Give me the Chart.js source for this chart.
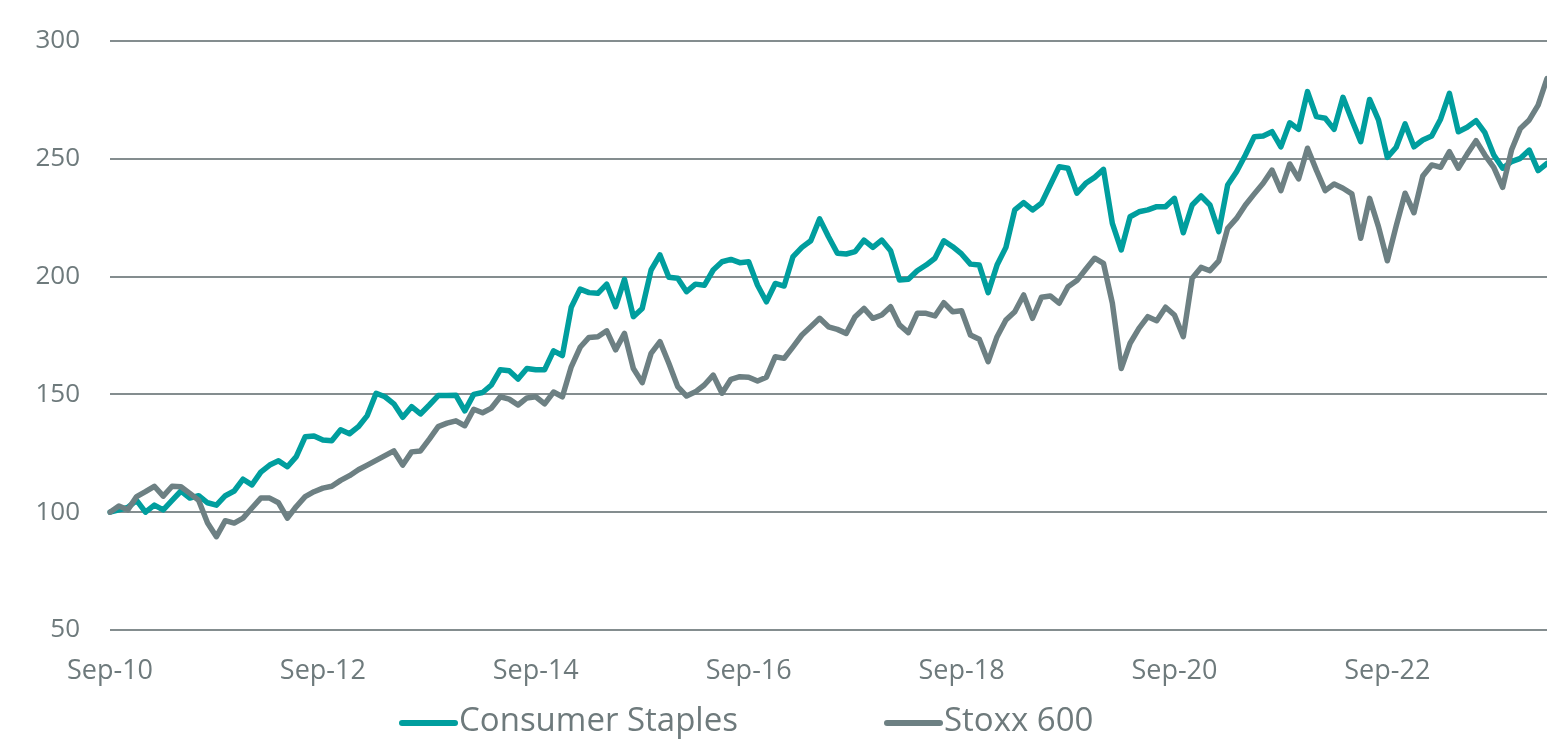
<!DOCTYPE html>
<html>
<head>
<meta charset="utf-8">
<script src="https://cdn.jsdelivr.net/npm/chart.js@4"></script>
<style>
  html, body { margin: 0; padding: 0; background: #fff; }
  #wrap { width: 1547px; height: 740px; }
</style>
</head>
<body>
<div id="wrap"><canvas id="myChart"></canvas></div>
<script>
// monthly index levels, Sep-10 = 100
var consumerStaples = [
  100, 101, 102, 105, 100, 103, 101, 105, 109, 106, 107, 104, 103, 107, 109, 114, 111.6, 117, 120, 121.8,
  119.3, 123.6, 132, 132.3, 130.6, 130.3, 135, 133.3, 136.3, 141, 150.5, 149, 146, 140.3, 144.8, 141.7, 145.5, 149.5, 149.5, 149.6,
  143, 150, 150.8, 154, 160.5, 160, 156.5, 161, 160.5, 160.5, 168.5, 166.5, 187, 194.7, 193.2, 192.9, 196.8, 187.2, 198.8, 183,
  186.5, 202.8, 209.2, 199.7, 199.3, 193.6, 196.8, 196.3, 202.8, 206.3, 207.3, 205.9, 206.3, 196.3, 189.3, 197.1, 196, 208.5, 212.4, 215.2,
  224.5, 216.9, 209.9, 209.6, 210.6, 215.5, 212.4, 215.5, 211, 198.6, 198.9, 202.5, 204.9, 207.8, 215.2, 212.7, 209.6, 205.3, 204.9, 193.2,
  204.9, 212.4, 228.3, 231.4, 228.3, 231.1, 238.9, 246.6, 246, 235.4, 239.6, 242.1, 245.5, 222.6, 211.3, 225.4, 227.5, 228.3, 229.7, 229.7,
  233.2, 218.6, 230.4, 234.2, 230.4, 219.1, 238.9, 244.5, 251.6, 259.4, 259.7, 261.5, 255.1, 265.3, 262.5, 278.5, 267.9, 267.2, 262.5, 276.1,
  266.5, 257.3, 275.2, 266.5, 250.6, 254.9, 264.8, 255.1, 258, 259.7, 266.8, 277.8, 261.5, 263.4, 266.2, 261.1, 251.6, 246, 248.8, 250.2,
  253.7, 245, 248
];
var stoxx600 = [
  100, 102.6, 101, 106.6, 108.7, 111, 106.8, 111, 110.8, 108, 105, 95.4, 89.6, 96.4, 95.4, 97.5, 101.8, 106, 106, 104,
  97.5, 102.4, 106.6, 108.7, 110.2, 111, 113.5, 115.5, 118, 120, 122, 124, 126, 120, 125.6, 126, 131, 136.3, 137.8, 138.8,
  136.7, 143.7, 142.2, 144.2, 149, 148, 145.5, 148.5, 149, 146, 151, 149, 161.7, 170, 174.2, 174.5, 177, 168.9, 175.9, 161,
  155, 167.4, 172.4, 163.2, 153.3, 149.3, 151.1, 154, 158.2, 150.5, 156.4, 157.5, 157.3, 155.7, 157.3, 166, 165.3, 170.2, 175.2, 178.7,
  182.3, 178.7, 177.6, 175.9, 183, 186.5, 182.3, 183.7, 187.2, 179.5, 176.2, 184.4, 184.4, 183.3, 188.9, 185.1, 185.5, 175.2, 173.4, 163.9,
  174.5, 181.6, 185.1, 192.2, 182.3, 191.2, 191.8, 188.7, 195.7, 198.3, 203.1, 207.8, 205.6, 188.7, 161, 171.7, 178, 183, 181.3, 187,
  183.7, 174.5, 199.3, 203.9, 202.5, 206.7, 220.5, 224.7, 230.4, 235.1, 239.6, 245.2, 236.5, 247.8, 241.5, 254.5, 245.2, 236.5, 239.3, 237.5,
  235.1, 216.3, 233.2, 221.2, 206.7, 221.5, 235.4, 227.1, 242.7, 247.4, 246.4, 253, 246, 252, 257.7, 251.6, 246.4, 237.9, 253.7, 262.9,
  266.5, 272.8, 284
];
var seriesNames = ['Consumer Staples', 'Stoxx 600'];
var tickLabels = ['Sep-10', 'Sep-12', 'Sep-14', 'Sep-16', 'Sep-18', 'Sep-20', 'Sep-22'];
var yTicks = [50, 100, 150, 200, 250, 300];

// month labels Sep-10 onwards
var monthNames = ['Jan', 'Feb', 'Mar', 'Apr', 'May', 'Jun', 'Jul', 'Aug', 'Sep', 'Oct', 'Nov', 'Dec'];
var labels = [];
for (var i = 0; i < consumerStaples.length; i++) {
    var m = (8 + i) % 12;
    var y = 10 + Math.floor((8 + i) / 12);
    labels.push(monthNames[m] + '-' + (y < 10 ? '0' + y : y));
}

var teal = '#009e9e';
var slate = '#6d8083';
var textGrey = '#6e7a7c';

// legend drawn by hand: line sample right up against the text
var bottomLegend = {
    id: 'bottomLegend',
    afterDraw: function(chart) {
        var ctx = chart.ctx;
        var items = [
            { text: seriesNames[0], color: teal, x: 402 },
            { text: seriesNames[1], color: slate, x: 887 }
        ];
        ctx.save();
        ctx.font = '33px "Open Sans"';
        ctx.textBaseline = 'middle';
        ctx.fillStyle = textGrey;
        items.forEach(function(it) {
            ctx.beginPath();
            ctx.lineWidth = 6;
            ctx.lineCap = 'round';
            ctx.strokeStyle = it.color;
            ctx.moveTo(it.x, 723);
            ctx.lineTo(it.x + 53, 723);
            ctx.stroke();
            ctx.fillText(it.text, it.x + 57, 722);
        });
        ctx.restore();
    }
};

var ctx = document.getElementById('myChart').getContext('2d');
var myChart = new Chart(ctx, {
    type: 'line',
    data: {
        labels: labels,
        datasets: [{
            label: seriesNames[0],
            data: consumerStaples,
            borderColor: teal,
            backgroundColor: teal,
            borderWidth: 5.5,
            pointRadius: 0,
            borderJoinStyle: 'round',
            borderCapStyle: 'round',
            order: 1
        }, {
            label: seriesNames[1],
            data: stoxx600,
            borderColor: slate,
            backgroundColor: slate,
            borderWidth: 5.5,
            pointRadius: 0,
            borderJoinStyle: 'round',
            borderCapStyle: 'round',
            order: 0
        }]
    },
    options: {
        responsive: true,
        maintainAspectRatio: false,
        animation: false,
        layout: { padding: { top: 41, right: 0, bottom: 50, left: 0 } },
        plugins: {
            legend: { display: false },
            tooltip: { enabled: false }
        },
        scales: {
            x: {
                offset: false,
                grid: { display: false, drawTicks: false },
                border: { display: false },
                ticks: {
                    autoSkip: false,
                    maxRotation: 0,
                    padding: 25,
                    color: textGrey,
                    font: { family: 'Open Sans', size: 27 },
                    callback: function(val, idx) {
                        var l = labels[idx];
                        return tickLabels.indexOf(l) >= 0 ? l : null;
                    }
                },
                afterFit: function(scale) { scale.height = 60; }
            },
            y: {
                min: 50,
                max: 300,
                afterBuildTicks: function(scale) {
                    scale.ticks = yTicks.map(function(v) { return { value: v }; });
                },
                // invisible tick marks give the label gap without extra top padding
                grid: { color: '#848d8f', lineWidth: 2, drawTicks: true, tickLength: 30, tickColor: 'rgba(0,0,0,0)' },
                border: { display: false },
                ticks: {
                    padding: 0,
                    color: textGrey,
                    font: { family: 'Open Sans', size: 26 }
                },
                afterFit: function(scale) { scale.width = 110; }
            }
        }
    },
    plugins: [bottomLegend]
});
</script>
</body>
</html>
